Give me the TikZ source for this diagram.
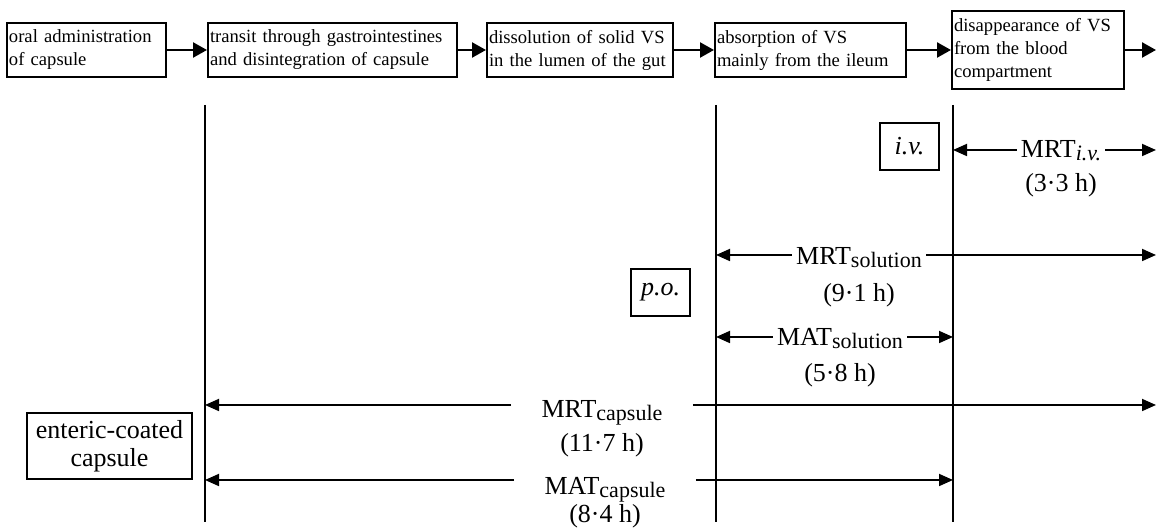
\documentclass[tikz,border=0pt]{standalone}
\usepackage{fontspec}
\setmainfont{Liberation Serif}
\usetikzlibrary{arrows.meta}
\newcommand{\lowidx}[1]{\raisebox{-1.5pt}{\fontsize{11}{11}\selectfont #1}}

\begin{document}
\begin{tikzpicture}[x=0.5pt, y=-0.5pt,
			step_style/.style={draw, line width=1pt, align=left, inner xsep=1pt, inner ysep=3.5pt, font=\fontsize{9.3}{11.5}\selectfont},
			flow_style/.style={-{Triangle[length=7pt,width=7.5pt]}, line width=1.2pt},
			route_style/.style={draw, line width=1pt, minimum width=29.5pt, minimum height=23.5pt, inner sep=1pt, font=\fontsize{13}{14}\selectfont},
			time_style/.style={anchor=base, inner xsep=2pt, font=\fontsize{13}{14}\selectfont},
			span_style/.style={-{Triangle[length=7pt,width=6pt]}, line width=0.9pt},
			mark_style/.style={line width=0.9pt}]
			
			\useasboundingbox (0,0) rectangle (1158,528);
			
			% the steps
			\foreach \x/\w/\n/\t in {86.5/77.5/s1/{oral administration\\of capsule},
				332.5/122.5/s2/{transit through gastrointestines\\and disintegration of capsule},
				580/91/s3/{dissolution of solid VS\\in the lumen of the gut},
				810.5/93.5/s4/{absorption of VS\\mainly from the ileum},
				1038/84/s5/{disappearance of VS\\from the blood\\compartment}}{
				\node[step_style, text width=\w pt] (\n) at (\x,50) {\t};}
			
			\foreach \a/\b in {s1/s2,s2/s3,s3/s4,s4/s5}{
				\draw[flow_style] (\a) -- (\b);}
			\coordinate (out) at (1156,50);
			\draw[flow_style] (s5) -- (out);
			
			% vertical marks
			\foreach \x/\n in {205/t1,716/t2,953/t3}{
				\coordinate (\n-a) at (\x,105);
				\coordinate (\n-b) at (\x,522);
				\draw[mark_style] (\n-a) -- (\n-b);}
			
			% routes
			\node[route_style] (iv) at (909.5,146.5) {\itshape i.v.};
			\node[route_style] (po) at (660.5,292.5) {\itshape p.o.};
			\node[route_style, align=center, text width=78.5pt, inner xsep=2pt, inner ysep=3.5pt] (ec) at (109.5,446) {enteric-coated\\capsule};
			
			% mean times
			\foreach \n/\x/\b/\y/\l/\r/\g/\t/\v/\vb in {
				mrtiv/1061/158/150/953/1156/2/{MRT\lowidx{\itshape i.v.}}/{(3·3 h)}/192,
				mrtsol/859/265/255/716/1156/2/{MRT\lowidx{solution}}/{(9·1 h)}/302,
				matsol/840/346/337/716/953/2/{MAT\lowidx{solution}}/{(5·8 h)}/382,
				mrtcap/602/418/405/205/1156/15/{MRT\lowidx{capsule}}/{(11·7 h)}/452,
				matcap/605/495/480/205/953/15/{MAT\lowidx{capsule}}/{(8·4 h)}/523}{
				\node[time_style, inner xsep=\g pt] (\n) at (\x,\b) {\t};
				\coordinate (\n-l) at (\l,\y);
				\coordinate (\n-r) at (\r,\y);
				\draw[span_style] (\n.west |- \n-l) -- (\n-l);
				\draw[span_style] (\n.east |- \n-r) -- (\n-r);
				\node[time_style] (\n-h) at (\x,\vb) {\v};}
		\end{tikzpicture}
\end{document}
